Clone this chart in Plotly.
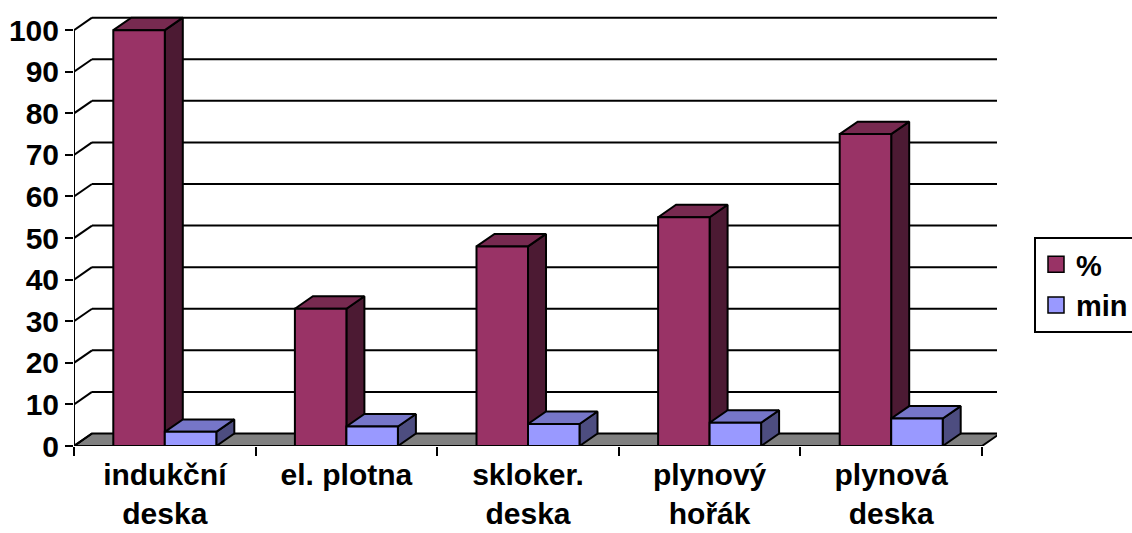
import plotly.graph_objects as go

# ---- data ----
categories = ["indukční<br>deska", "el. plotna", "skloker.<br>deska", "plynový<br>hořák", "plynová<br>deska"]
series_names = ["%", "min"]
pct_values = [100, 33, 48, 55, 75]
min_values = [3.4, 4.7, 5.3, 5.6, 6.6]
y_tick_values = [0, 10, 20, 30, 40, 50, 60, 70, 80, 90, 100]

# ---- styling / geometry ----
W, H = 1132, 533
ML, MR, MT, MB = 74, 135, 16, 87
N = len(categories)
X_RANGE = [0, 5.0826]
Y_RANGE = [0, 103.4]
DX = 0.0991   # depth offset (category units)
DY = 3.0      # depth offset (value units)
BAR_W = 0.2836
FONT = "Liberation Sans, Arial, sans-serif"
FS_Y = 30
FS_X = 30
FS_L = 29

face_colors = {
    "%": ("#993366", "#772A50", "#4C1A33"),
    "min": ("#9999FF", "#7676C8", "#4D4D80"),
}
LINE = dict(color="black", width=2)

fig = go.Figure()


def poly(xs, ys, fill, width=2):
    fig.add_trace(go.Scatter(
        x=list(xs) + [xs[0]], y=list(ys) + [ys[0]], mode="lines",
        fill="toself", fillcolor=fill, line=dict(color="black", width=width),
        showlegend=False, hoverinfo="skip", cliponaxis=False))


def line(xs, ys):
    fig.add_trace(go.Scatter(
        x=xs, y=ys, mode="lines", line=LINE, showlegend=False,
        hoverinfo="skip", cliponaxis=False))


# floor
poly([0, N, N + DX, DX], [0, 0, DY, DY], "#808080")

# back-wall gridlines and side-wall diagonals
y_top = max(y_tick_values)
for v in y_tick_values:
    if v > 0:
        line([DX, N + DX], [v + DY, v + DY])
    line([0, DX], [v, v + DY])
# front vertical axis line
line([0, 0], [0, y_top])

# bars
for i in range(N):
    center = i + 0.5
    for name, vals, x0 in (("%", pct_values, center - BAR_W), ("min", min_values, center)):
        v = vals[i]
        x1 = x0 + BAR_W
        front, top, side = face_colors[name]
        poly([x1, x1 + DX, x1 + DX, x1], [0, DY, v + DY, v], side)
        poly([x0, x1, x1 + DX, x0 + DX], [v, v, v + DY, v + DY], top)
        poly([x0, x1, x1, x0], [0, 0, v, v], front)

# legend entries
for name in series_names:
    fig.add_trace(go.Scatter(
        x=[None], y=[None], mode="markers", name=name,
        marker=dict(symbol="square", size=16, color=face_colors[name][0],
                    line=dict(color="black", width=1.5))))

fig.update_layout(
    width=W, height=H,
    margin=dict(l=ML, r=MR, t=MT, b=MB, pad=0, autoexpand=False),
    paper_bgcolor="white", plot_bgcolor="white",
    font=dict(family=FONT, size=FS_Y, color="black", weight="bold"),
    showlegend=True,
    legend=dict(x=(1034 - ML) / (W - ML - MR), y=(446 - 237) / (H - MT - MB),
                xanchor="left", yanchor="top", bordercolor="black", borderwidth=2,
                bgcolor="white", font=dict(family=FONT, size=FS_L, weight="bold"),
                itemsizing="trace"),
    xaxis=dict(range=X_RANGE, showgrid=False, zeroline=False, showline=False,
               automargin=False,
               tickmode="array", tickvals=[i + 0.5 for i in range(N)],
               ticktext=categories, ticks="", ticklabelstandoff=8,
               tickfont=dict(family=FONT, size=FS_X, weight="bold"),
               minor=dict(tickmode="array", tickvals=list(range(N + 1)), ticks="outside",
                          ticklen=9, tickwidth=2, tickcolor="black", showgrid=False),
               fixedrange=True),
    yaxis=dict(range=Y_RANGE, showgrid=False, zeroline=False, showline=False,
               automargin=False,
               tickmode="array", tickvals=y_tick_values, ticks="outside",
               tickfont=dict(family=FONT, size=FS_Y, weight="bold"),
               ticklen=8, tickwidth=2, tickcolor="black", fixedrange=True),
)

fig.write_html("out.html")
